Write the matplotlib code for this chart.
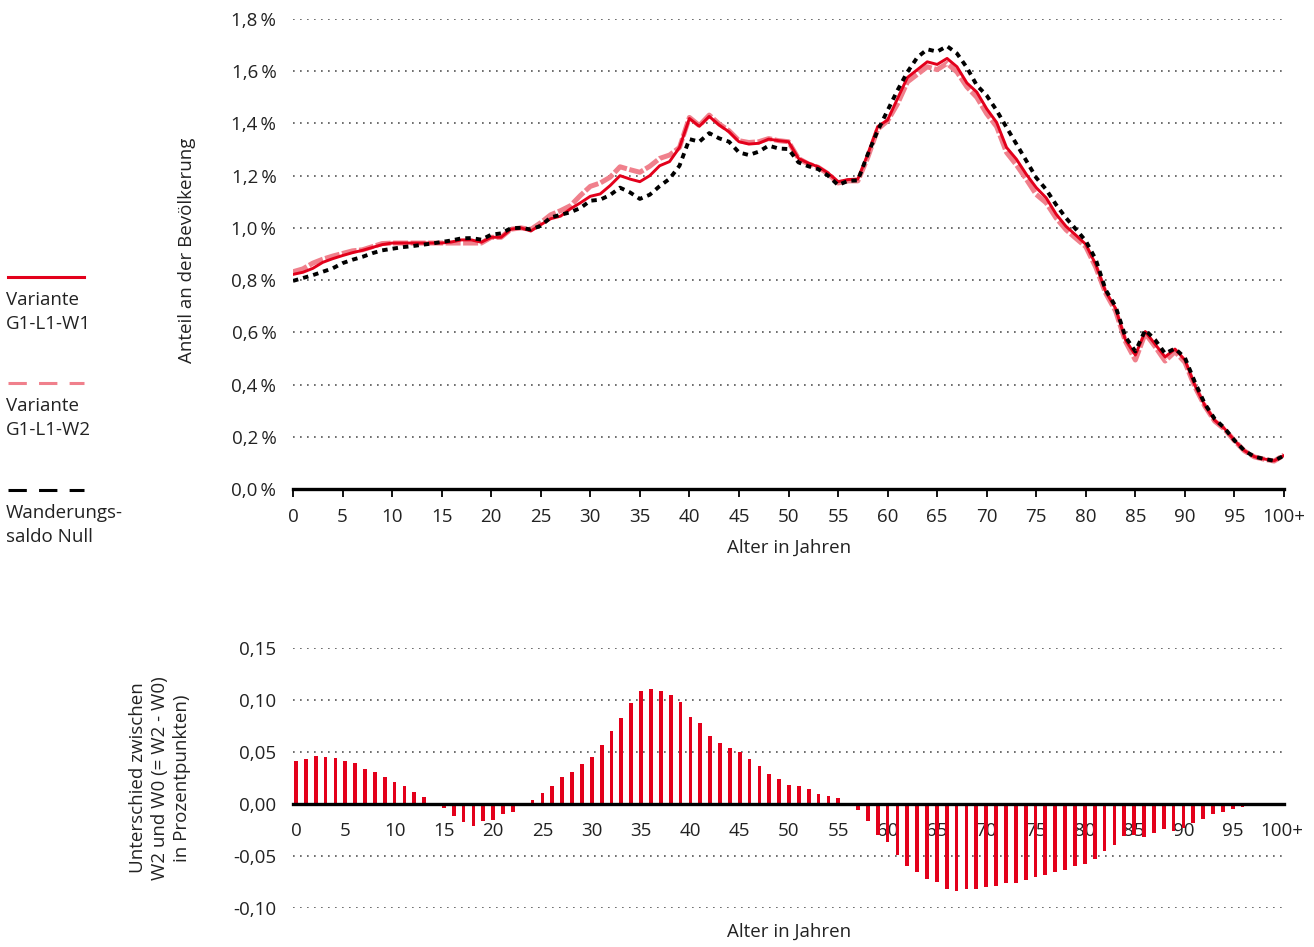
import numpy as np
import matplotlib
matplotlib.use("Agg")
import matplotlib.pyplot as plt
from matplotlib.lines import Line2D

plt.rcParams["font.family"] = ["Open Sans", "DejaVu Sans"]

RED   = "#E3001B"
PINK  = "#F0808C"
DARK  = "#222222"
GRID  = "#555555"

ages = np.arange(101)

# Anteil an der Bevoelkerung (%), Variante G1-L1-W1
w1 = [0.822, 0.830, 0.845, 0.868, 0.882, 0.894, 0.905, 0.914, 0.925, 0.936,
      0.942, 0.942, 0.942, 0.942, 0.942, 0.942, 0.946, 0.954, 0.954, 0.945,
      0.964, 0.964, 0.995, 1.000, 0.988, 1.012, 1.035, 1.045, 1.073, 1.096,
      1.121, 1.130, 1.162, 1.200, 1.187, 1.177, 1.200, 1.238, 1.254, 1.308,
      1.419, 1.389, 1.427, 1.394, 1.368, 1.330, 1.321, 1.324, 1.340, 1.334,
      1.330, 1.266, 1.248, 1.234, 1.210, 1.177, 1.185, 1.187, 1.282, 1.388,
      1.413, 1.495, 1.576, 1.606, 1.636, 1.626, 1.649, 1.617, 1.555, 1.520,
      1.456, 1.404, 1.308, 1.263, 1.205, 1.154, 1.115, 1.053, 1.006, 0.972,
      0.937, 0.860, 0.756, 0.692, 0.571, 0.513, 0.603, 0.554, 0.506, 0.536,
      0.494, 0.397, 0.321, 0.263, 0.231, 0.186, 0.147, 0.124, 0.115, 0.108,
      0.128]

# Variante G1-L1-W2
w2 = [0.832, 0.843, 0.865, 0.880, 0.892, 0.902, 0.912, 0.916, 0.928, 0.940,
      0.942, 0.942, 0.942, 0.942, 0.942, 0.942, 0.942, 0.942, 0.942, 0.942,
      0.964, 0.964, 0.995, 1.000, 0.994, 1.020, 1.050, 1.066, 1.085, 1.124,
      1.159, 1.172, 1.194, 1.234, 1.223, 1.213, 1.236, 1.266, 1.279, 1.308,
      1.423, 1.392, 1.432, 1.398, 1.372, 1.334, 1.327, 1.330, 1.342, 1.334,
      1.330, 1.266, 1.245, 1.232, 1.207, 1.172, 1.180, 1.180, 1.270, 1.378,
      1.410, 1.475, 1.559, 1.588, 1.617, 1.606, 1.630, 1.597, 1.540, 1.500,
      1.437, 1.388, 1.289, 1.241, 1.186, 1.128, 1.096, 1.038, 0.993, 0.960,
      0.928, 0.850, 0.750, 0.682, 0.565, 0.494, 0.596, 0.545, 0.490, 0.526,
      0.485, 0.392, 0.318, 0.260, 0.229, 0.185, 0.146, 0.123, 0.114, 0.107,
      0.130]

# Wanderungssaldo Null
w0 = [0.797, 0.808, 0.819, 0.832, 0.845, 0.865, 0.878, 0.889, 0.903, 0.914,
      0.920, 0.926, 0.930, 0.935, 0.940, 0.946, 0.952, 0.960, 0.961, 0.955,
      0.974, 0.979, 0.999, 1.000, 0.994, 1.008, 1.040, 1.050, 1.060, 1.076,
      1.104, 1.108, 1.126, 1.154, 1.136, 1.111, 1.127, 1.160, 1.188, 1.238,
      1.340, 1.330, 1.363, 1.343, 1.330, 1.289, 1.279, 1.292, 1.315, 1.304,
      1.302, 1.251, 1.236, 1.225, 1.200, 1.164, 1.180, 1.182, 1.282, 1.372,
      1.450, 1.527, 1.597, 1.653, 1.684, 1.675, 1.696, 1.668, 1.614, 1.546,
      1.507, 1.450, 1.385, 1.321, 1.257, 1.192, 1.147, 1.089, 1.038, 0.995,
      0.950, 0.880, 0.763, 0.700, 0.583, 0.527, 0.609, 0.571, 0.519, 0.538,
      0.503, 0.410, 0.327, 0.269, 0.233, 0.186, 0.147, 0.124, 0.115, 0.108,
      0.128]

# Unterschied W2 - W0 in Prozentpunkten
diff = [0.041, 0.0436, 0.046, 0.045, 0.044, 0.041, 0.039, 0.034, 0.031, 0.026,
        0.021, 0.017, 0.0115, 0.0067, 0.0005, -0.004, -0.012, -0.0176, -0.021, -0.0163,
        -0.0157, -0.010, -0.008, -0.0005, 0.0038, 0.011, 0.017, 0.026, 0.031, 0.038,
        0.0455, 0.057, 0.070, 0.0824, 0.097, 0.1087, 0.1106, 0.109, 0.105, 0.098,
        0.084, 0.078, 0.0657, 0.0587, 0.0535, 0.050, 0.043, 0.0368, 0.029, 0.024,
        0.018, 0.0176, 0.014, 0.0096, 0.0074, 0.0055, 0.001, -0.0055, -0.0167, -0.0298,
        -0.037, -0.049, -0.0596, -0.065, -0.0724, -0.0753, -0.0814, -0.0833, -0.0815, -0.082,
        -0.080, -0.0785, -0.0757, -0.0757, -0.0734, -0.070, -0.068, -0.0657, -0.0635, -0.060,
        -0.058, -0.053, -0.045, -0.039, -0.031, -0.030, -0.032, -0.028, -0.024, -0.0257,
        -0.023, -0.0186, -0.0147, -0.0099, -0.008, -0.005, -0.0026, -0.001, -0.0005, -0.0003,
        0.0]

x_ticks = list(range(0, 101, 5))
x_labels = [str(v) for v in range(0, 100, 5)] + ["100+"]
top_yticks = [0.0, 0.2, 0.4, 0.6, 0.8, 1.0, 1.2, 1.4, 1.6, 1.8]
top_ylabels = ["0,0\u2009%", "0,2\u2009%", "0,4\u2009%", "0,6\u2009%", "0,8\u2009%",
               "1,0\u2009%", "1,2\u2009%", "1,4\u2009%", "1,6\u2009%", "1,8\u2009%"]
bot_yticks = [-0.10, -0.05, 0.0, 0.05, 0.10, 0.15]
bot_ylabels = ["-0,10", "-0,05", "0,00", "0,05", "0,10", "0,15"]

W, H = 1314, 947
fig = plt.figure(figsize=(W / 100, H / 100), dpi=100, facecolor="white")

def fx(px):
    return px / W

def fy(py):
    return 1 - py / H

FS = 13.5

# ---- top panel
ax = fig.add_axes([fx(293), fy(489), fx(1284) - fx(293), fy(19) - fy(489)])
ax.plot(ages, w2, color=PINK, linewidth=3.6, dashes=(3.0, 0.5), zorder=3)
ax.plot(ages, w1, color=RED, linewidth=2.1, zorder=4)
ax.plot(ages, w0, color="black", linewidth=2.8, dashes=(1.4, 1.3), zorder=5)

ax.set_xlim(0, 100)
ax.set_ylim(0, 1.8)
ax.set_xticks(x_ticks)
ax.set_xticklabels(x_labels)
ax.set_yticks(top_yticks)
ax.set_yticklabels(top_ylabels)
for y in top_yticks[1:]:
    ax.axhline(y, color=GRID, linewidth=1.2, linestyle=(0, (1, 3.2)), zorder=1)
ax.spines[["top", "right", "left"]].set_visible(False)
ax.spines["bottom"].set_linewidth(2.4)
ax.tick_params(axis="x", length=6, width=1.3, pad=8, colors="black",
               labelcolor=DARK, labelsize=FS)
ax.tick_params(axis="y", length=0, pad=12, labelcolor=DARK, labelsize=FS)

fig.text(fx(187), fy(250), "Anteil an der Bevölkerung", rotation=90,
         ha="center", va="center", fontsize=FS, color=DARK)
fig.text(fx(789), fy(548), "Alter in Jahren", ha="center", va="center",
         fontsize=FS, color=DARK)

# ---- bottom panel
ax2 = fig.add_axes([fx(293), fy(908), fx(1284) - fx(293), fy(648) - fy(908)])
ax2.spines["bottom"].set_position(("data", 0))
ax2.bar(ages, diff, width=0.38, color=RED, zorder=3)
ax2.set_xlim(-0.3, 100.2)
ax2.set_ylim(-0.10, 0.15)
ax2.set_xticks(x_ticks)
ax2.set_xticklabels(x_labels)
ax2.set_yticks(bot_yticks)
ax2.set_yticklabels(bot_ylabels)
for y in bot_yticks:
    if y != 0:
        ax2.axhline(y, color=GRID, linewidth=1.2, linestyle=(0, (1, 3.2)), zorder=1)
ax2.spines[["top", "right", "left"]].set_visible(False)
ax2.spines["bottom"].set_linewidth(2.4)
ax2.spines["bottom"].set_zorder(4)
ax2.tick_params(axis="x", length=0, pad=13, labelcolor=DARK, labelsize=FS)
ax2.tick_params(axis="y", length=0, pad=12, labelcolor=DARK, labelsize=FS)

fig.text(fx(160), fy(778),
         "Unterschied zwischen\nW2 und W0 (= W2 - W0)\nin Prozentpunkten)",
         rotation=90, ha="center", va="center", fontsize=FS, color=DARK,
         linespacing=1.32, multialignment="center")
fig.text(fx(789), fy(932), "Alter in Jahren", ha="center", va="center",
         fontsize=FS, color=DARK)

# ---- legend on the left
legend_items = [
    (277, dict(color=RED, linewidth=2.2), "Variante\nG1-L1-W1"),
    (383, dict(color=PINK, linewidth=2.2, dashes=(6, 4)), "Variante\nG1-L1-W2"),
    (490, dict(color="black", linewidth=2.2, dashes=(6, 4)), "Wanderungs-\nsaldo Null"),
]
for py, style, label in legend_items:
    fig.add_artist(Line2D([fx(8), fx(84)], [fy(py), fy(py)],
                          transform=fig.transFigure, **style))
    fig.text(fx(6), fy(py + 14), label, ha="left", va="top", fontsize=FS,
             color=DARK, linespacing=1.45)

plt.savefig("out.png", dpi=100, facecolor="white")
